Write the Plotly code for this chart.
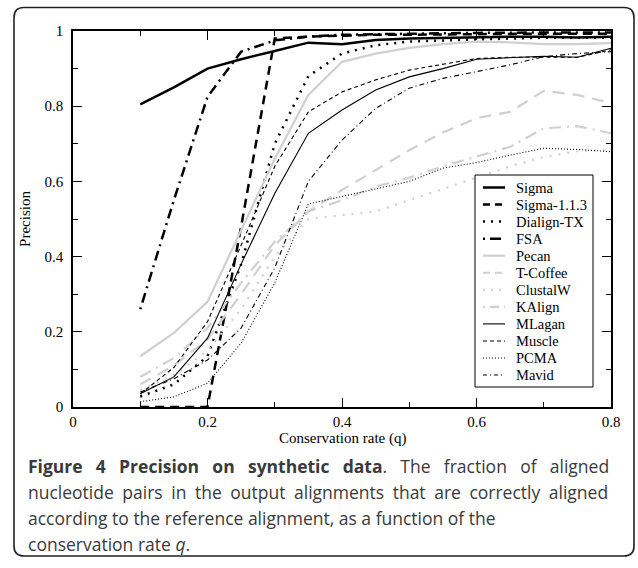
import plotly.graph_objects as go

# ---------------- data ----------------
q = [0.10, 0.15, 0.20, 0.25, 0.30, 0.35, 0.40, 0.45, 0.50, 0.55, 0.60, 0.65, 0.70, 0.75, 0.80]

sigma     = [0.805, 0.850, 0.900, 0.925, 0.947, 0.969, 0.965, 0.976, 0.980, 0.982, 0.984, 0.985, 0.985, 0.983, 0.985]
sigma113  = [0.000, 0.000, 0.000, 0.480, 0.980, 0.985, 0.988, 0.990, 0.990, 0.991, 0.992, 0.993, 0.993, 0.993, 0.993]
dialign   = [0.028, 0.060, 0.135, 0.380, 0.700, 0.880, 0.940, 0.962, 0.972, 0.975, 0.978, 0.980, 0.982, 0.982, 0.982]
fsa       = [0.260, 0.550, 0.825, 0.945, 0.975, 0.985, 0.990, 0.992, 0.993, 0.994, 0.995, 0.996, 0.996, 0.996, 0.996]
pecan     = [0.135, 0.197, 0.280, 0.470, 0.660, 0.830, 0.918, 0.940, 0.955, 0.965, 0.972, 0.970, 0.965, 0.965, 0.968]
tcoffee   = [0.060, 0.110, 0.180, 0.300, 0.430, 0.520, 0.577, 0.630, 0.683, 0.730, 0.768, 0.785, 0.841, 0.830, 0.808]
clustalw  = [0.045, 0.085, 0.150, 0.260, 0.400, 0.500, 0.510, 0.520, 0.550, 0.580, 0.610, 0.640, 0.665, 0.680, 0.685]
kalign    = [0.080, 0.130, 0.210, 0.330, 0.440, 0.520, 0.550, 0.586, 0.610, 0.640, 0.666, 0.692, 0.741, 0.747, 0.728]
mlagan    = [0.035, 0.080, 0.183, 0.380, 0.568, 0.728, 0.790, 0.843, 0.878, 0.900, 0.925, 0.930, 0.933, 0.930, 0.954]
muscle    = [0.035, 0.105, 0.227, 0.430, 0.640, 0.785, 0.838, 0.870, 0.896, 0.912, 0.927, 0.930, 0.930, 0.930, 0.950]
pcma      = [0.014, 0.027, 0.063, 0.170, 0.330, 0.540, 0.560, 0.580, 0.600, 0.635, 0.650, 0.670, 0.688, 0.685, 0.679]
mavid     = [0.040, 0.075, 0.125, 0.210, 0.370, 0.600, 0.710, 0.794, 0.848, 0.874, 0.892, 0.910, 0.932, 0.940, 0.945]

names = ["Sigma", "Sigma-1.1.3", "Dialign-TX", "FSA", "Pecan", "T-Coffee",
         "ClustalW", "KAlign", "MLagan", "Muscle", "PCMA", "Mavid"]
series = [sigma, sigma113, dialign, fsa, pecan, tcoffee, clustalw, kalign,
          mlagan, muscle, pcma, mavid]

x_ticks = [0, 0.2, 0.4, 0.6, 0.8]
x_tick_labels = ["0", "0.2", "0.4", "0.6", "0.8"]
y_ticks = [0, 0.2, 0.4, 0.6, 0.8, 1]
y_tick_labels = ["0", "0.2", "0.4", "0.6", "0.8", "1"]

x_title = "Conservation rate (q)"
y_title = "Precision"

caption_lines = [
    "<b>Figure 4 Precision on synthetic data</b>. The fraction of aligned",
    "nucleotide pairs in the output alignments that are correctly aligned",
    "according to the reference alignment, as a function of the",
    "conservation rate <i>q</i>.",
]
caption_word_spacing = [8.7, 4.0, 0, 0]   # emulate the justified lines

# ---------------- styles ----------------
GRAY = "#d0d0d0"
styles = [
    dict(color="black", width=2.5, dash="solid"),
    dict(color="black", width=2.5, dash="9px,6px"),
    dict(color="black", width=2.5, dash="2px,6px"),
    dict(color="black", width=2.5, dash="2px,5px,10px,5px"),
    dict(color=GRAY, width=2.2, dash="solid"),
    dict(color=GRAY, width=2.2, dash="12px,8px"),
    dict(color=GRAY, width=2.2, dash="2px,7px"),
    dict(color=GRAY, width=2.2, dash="12px,6px,2px,6px"),
    dict(color="black", width=1.1, dash="solid"),
    dict(color="black", width=1.1, dash="4px,3px"),
    dict(color="black", width=1.1, dash="1px,2px"),
    dict(color="black", width=1.1, dash="5px,3px,1px,3px"),
]
legend_styles = [
    dict(color="black", width=2.5, dash="solid"),
    dict(color="black", width=2.5, dash="7px,5px"),
    dict(color="black", width=2.5, dash="2px,6px"),
    dict(color="black", width=2.5, dash="2px,5px,11px,5px"),
    dict(color=GRAY, width=2.2, dash="solid"),
    dict(color=GRAY, width=2.2, dash="7px,5px"),
    dict(color=GRAY, width=2.2, dash="2px,6px"),
    dict(color=GRAY, width=2.2, dash="2px,5px,9px,5px"),
    dict(color="black", width=1.1, dash="solid"),
    dict(color="black", width=1.1, dash="4px,3px"),
    dict(color="black", width=1.1, dash="1px,2px"),
    dict(color="black", width=1.1, dash="4px,3px,1px,3px"),
]

W, H = 638, 568
L, R, T, B = 73, 27, 31, 161
PW, PH = W - L - R, H - T - B


def px(x):
    return (x - L) / PW


def py(y):
    return (H - B - y) / PH


fig = go.Figure()
for name, ys, st in zip(names, series, styles):
    fig.add_trace(go.Scatter(x=q, y=ys, mode="lines", name=name, line=st))

serif = "Liberation Serif"
axis_common = dict(
    showgrid=False, zeroline=False, showline=True, linecolor="black", linewidth=1.5,
    mirror="ticks", ticks="inside", ticklen=9, tickwidth=1.2, tickcolor="black",
    tickfont=dict(family=serif, size=15, color="black"),
)

fig.update_layout(
    width=W, height=H,
    margin=dict(l=L, r=R, t=T, b=B),
    paper_bgcolor="white", plot_bgcolor="white",
    showlegend=False,
    xaxis=dict(
        range=[0, 0.8], tickvals=x_ticks, ticktext=x_tick_labels,
        minor=dict(ticks="inside", dtick=0.1, tick0=0, ticklen=5, tickcolor="black"),
        **axis_common,
    ),
    yaxis=dict(
        range=[0, 1], tickvals=y_ticks, ticktext=y_tick_labels,
        minor=dict(ticks="inside", dtick=0.1, tick0=0, ticklen=5, tickcolor="black"),
        title=dict(text=y_title, font=dict(family=serif, size=15, color="black"), standoff=10),
        ticklabelstandoff=5,
        **axis_common,
    ),
)

# x-axis title placed tight under the tick labels, as in the original
fig.add_annotation(x=0.5, y=py(438), xref="paper", yref="paper",
                   xanchor="center", yanchor="middle", showarrow=False,
                   text=x_title, font=dict(family=serif, size=15, color="black"))

# legend box (drawn as shapes + text, matching the original's compact layout)
LX0, LX1, LY0, LY1 = 475, 593, 175, 387
fig.add_shape(type="rect", xref="paper", yref="paper",
              x0=px(LX0), x1=px(LX1), y0=py(LY1), y1=py(LY0),
              line=dict(color="black", width=1), fillcolor="white", layer="above")
for i, (name, st) in enumerate(zip(names, legend_styles)):
    yc = 187.5 + 17.05 * i
    fig.add_shape(type="line", xref="paper", yref="paper",
                  x0=px(483), x1=px(505), y0=py(yc), y1=py(yc), line=st, layer="above")
    fig.add_annotation(x=px(514), y=py(yc), xref="paper", yref="paper",
                       xanchor="left", yanchor="middle", showarrow=False,
                       text=name, font=dict(family=serif, size=14.5, color="black"))

# rounded frame around figure + caption
l, r, t, b, rad = px(14), px(634), py(7.5), py(556), 10
rx, ry = rad / PW, rad / PH
path = (f"M {l+rx},{t} L {r-rx},{t} Q {r},{t} {r},{t-ry} L {r},{b+ry} "
        f"Q {r},{b} {r-rx},{b} L {l+rx},{b} Q {l},{b} {l},{b+ry} L {l},{t-ry} Q {l},{t} {l+rx},{t} Z")
fig.add_shape(type="path", path=path, xref="paper", yref="paper",
              line=dict(color="#222", width=1.6))

for i, (line, ws) in enumerate(zip(caption_lines, caption_word_spacing)):
    txt = f'<span style="word-spacing:{ws}px">{line}</span>' if ws else line
    fig.add_annotation(
        x=px(26), y=py(466 + 26 * i), xref="paper", yref="paper",
        xanchor="left", yanchor="middle", showarrow=False, align="left",
        text=txt, font=dict(family="Open Sans", size=17.5, color="#3a3a3a"),
    )

fig.write_html("out.html", config={"displayModeBar": False},
               post_script="document.body.style.margin='0px';")
